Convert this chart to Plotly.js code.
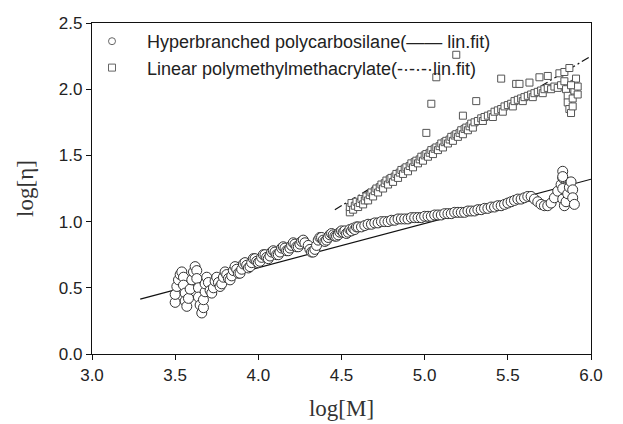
<!DOCTYPE html>
<html>
<head>
<meta charset="utf-8">
<script src="https://cdn.plot.ly/plotly-3.0.1.min.js"></script>
<style>html,body{margin:0;padding:0;background:#fff;}#chart{width:623px;height:424px;}</style>
</head>
<body>
<div id="chart"></div>
<script>
// Hyperbranched polycarbosilane (circles)
var hbX = [3.50,3.50,3.51,3.52,3.53,3.54,3.55,3.55,3.56,3.56,3.57,3.58,3.59,3.60,3.61,3.62,3.63,3.63,3.64,3.64,3.65,3.66,3.67,3.67,3.68,3.68,3.69,3.70,3.71,3.72,3.73,3.74,3.75,3.76,3.77,3.78,3.79,3.80,3.81,3.82,3.83,3.84,3.85,3.86,3.87,3.88,3.89,3.90,3.91,3.92,3.93,3.94,3.95,3.96,3.97,3.98,3.99,4.00,4.01,4.02,4.03,4.04,4.05,4.06,4.07,4.08,4.09,4.10,4.11,4.12,4.13,4.14,4.15,4.16,4.17,4.18,4.19,4.20,4.21,4.22,4.23,4.24,4.25,4.26,4.27,4.28,4.30,4.31,4.32,4.33,4.34,4.35,4.36,4.37,4.38,4.39,4.40,4.41,4.42,4.43,4.44,4.45,4.46,4.47,4.48,4.49,4.50,4.51,4.52,4.53,4.54,4.55,4.56,4.57,4.58,4.59,4.60,4.62,4.64,4.66,4.68,4.70,4.72,4.74,4.76,4.78,4.80,4.82,4.84,4.86,4.88,4.90,4.92,4.94,4.96,4.98,5.00,5.02,5.04,5.06,5.08,5.10,5.12,5.14,5.16,5.18,5.20,5.22,5.24,5.26,5.28,5.30,5.32,5.34,5.36,5.38,5.40,5.42,5.44,5.46,5.48,5.50,5.52,5.54,5.56,5.58,5.60,5.62,5.64,5.66,5.68,5.70,5.72,5.74,5.76,5.78,5.80,5.82,5.83,5.83,5.83,5.83,5.83,5.84,5.85,5.86,5.87,5.88,5.89,5.89,5.90,5.90,5.91,5.91];
var hbY = [0.39,0.45,0.51,0.56,0.60,0.62,0.58,0.52,0.46,0.40,0.36,0.42,0.49,0.56,0.62,0.66,0.63,0.57,0.50,0.43,0.37,0.31,0.35,0.41,0.47,0.53,0.58,0.54,0.48,0.46,0.50,0.55,0.58,0.54,0.51,0.53,0.58,0.62,0.60,0.57,0.56,0.59,0.63,0.66,0.64,0.61,0.61,0.64,0.68,0.69,0.67,0.65,0.66,0.69,0.72,0.72,0.70,0.69,0.70,0.73,0.75,0.75,0.73,0.72,0.74,0.77,0.78,0.77,0.75,0.75,0.77,0.80,0.81,0.80,0.78,0.78,0.80,0.82,0.84,0.83,0.81,0.81,0.83,0.85,0.86,0.84,0.82,0.79,0.77,0.77,0.79,0.82,0.86,0.88,0.88,0.86,0.85,0.86,0.88,0.90,0.91,0.90,0.89,0.89,0.90,0.92,0.93,0.92,0.93,0.91,0.92,0.94,0.93,0.95,0.94,0.96,0.96,0.96,0.97,0.98,0.98,0.99,0.99,1.00,1.00,1.00,1.01,1.01,1.02,1.02,1.02,1.02,1.03,1.03,1.03,1.03,1.04,1.04,1.04,1.05,1.05,1.05,1.06,1.06,1.06,1.07,1.07,1.07,1.07,1.08,1.08,1.08,1.09,1.09,1.10,1.10,1.11,1.11,1.12,1.12,1.13,1.14,1.15,1.16,1.17,1.17,1.18,1.19,1.19,1.17,1.15,1.13,1.12,1.12,1.14,1.18,1.23,1.28,1.33,1.38,1.34,1.25,1.17,1.12,1.15,1.21,1.26,1.30,1.24,1.18,1.13];

// Linear polymethylmethacrylate (squares)
var pmX = [4.55,4.55,4.56,4.57,4.58,4.59,4.60,4.61,4.62,4.63,4.64,4.65,4.66,4.67,4.68,4.69,4.70,4.71,4.72,4.73,4.74,4.75,4.76,4.77,4.78,4.79,4.80,4.81,4.82,4.83,4.84,4.85,4.86,4.87,4.88,4.89,4.90,4.91,4.92,4.93,4.94,4.95,4.96,4.97,4.98,4.99,5.00,5.01,5.02,5.03,5.04,5.05,5.06,5.07,5.08,5.09,5.10,5.11,5.12,5.13,5.14,5.15,5.16,5.17,5.18,5.19,5.20,5.21,5.22,5.23,5.24,5.25,5.26,5.27,5.28,5.29,5.30,5.32,5.34,5.35,5.36,5.38,5.40,5.41,5.42,5.44,5.46,5.47,5.48,5.50,5.52,5.53,5.54,5.56,5.58,5.59,5.60,5.62,5.64,5.65,5.66,5.68,5.70,5.71,5.72,5.74,5.76,5.78,5.80,5.82,5.84,5.85,5.86,5.86,5.87,5.88,5.89,5.89,5.90,5.90,5.91,5.92,5.92,5.88,5.01,5.04,5.07,5.19,5.23,5.31,5.46,5.55,5.57,5.63,5.69,5.74,5.81,5.84,5.87];
var pmY = [1.07,1.11,1.14,1.09,1.12,1.15,1.11,1.14,1.17,1.13,1.16,1.19,1.16,1.20,1.22,1.19,1.23,1.25,1.22,1.26,1.28,1.25,1.29,1.31,1.28,1.32,1.33,1.30,1.34,1.36,1.33,1.37,1.39,1.36,1.40,1.41,1.38,1.42,1.44,1.41,1.45,1.46,1.44,1.47,1.49,1.46,1.50,1.51,1.49,1.52,1.54,1.51,1.55,1.56,1.54,1.57,1.59,1.56,1.60,1.61,1.59,1.62,1.64,1.61,1.65,1.66,1.64,1.67,1.69,1.66,1.70,1.71,1.69,1.72,1.74,1.71,1.75,1.76,1.78,1.76,1.79,1.80,1.81,1.79,1.83,1.84,1.85,1.83,1.87,1.88,1.89,1.87,1.91,1.92,1.93,1.91,1.94,1.95,1.96,1.94,1.97,1.98,1.99,1.97,2.00,2.01,2.00,2.02,2.01,2.03,2.06,2.00,1.95,1.90,1.85,1.82,1.87,1.93,1.99,2.04,2.08,2.02,1.96,2.03,1.67,1.89,2.09,2.26,1.80,1.91,2.08,2.04,2.04,2.05,2.09,2.10,2.12,2.13,2.16];

// Linear fits
var hbFitX = [3.29, 6.0];
var hbFitY = [0.415, 1.32];
var pmFitX = [4.46, 6.0];
var pmFitY = [1.09, 2.25];

var xTicks = [3.0, 3.5, 4.0, 4.5, 5.0, 5.5, 6.0];
var yTicks = [0.0, 0.5, 1.0, 1.5, 2.0, 2.5];

var seriesNames = ['   Hyperbranched polycarbosilane(\u2014\u2014 lin.fit)',
                   '   Linear polymethylmethacrylate(-\u00b7-\u00b7-\u00b7lin.fit)'];

var traces = [
  {x: hbFitX, y: hbFitY, mode: 'lines', line: {color: '#111', width: 1.2}, showlegend: false, hoverinfo: 'skip'},
  {x: pmFitX, y: pmFitY, mode: 'lines', line: {color: '#111', width: 1.2, dash: '8px,3px,2px,3px'}, showlegend: false, hoverinfo: 'skip'},
  {x: hbX, y: hbY, mode: 'markers', name: seriesNames[0], showlegend: false,
   marker: {symbol: 'circle', size: 10, color: '#fff', line: {color: '#333', width: 1}}},
  {x: pmX, y: pmY, mode: 'markers', name: seriesNames[1], showlegend: false,
   marker: {symbol: 'square', size: 7, color: '#fff', line: {color: '#555', width: 1}}},
  // legend-only entries (smaller, lighter symbols as in the original legend)
  {x: [null], y: [null], mode: 'markers', name: seriesNames[0],
   marker: {symbol: 'circle', size: 7, color: '#fff', line: {color: '#666', width: 1}}},
  {x: [null], y: [null], mode: 'markers', name: seriesNames[1],
   marker: {symbol: 'square', size: 7, color: '#fff', line: {color: '#666', width: 1}}}
];

var tickFont = {family: 'Liberation Sans, Arial, sans-serif', size: 17, color: '#222'};
var layout = {
  width: 623, height: 424,
  margin: {l: 92, r: 32, t: 23, b: 70},
  paper_bgcolor: '#fff', plot_bgcolor: '#fff',
  showlegend: true,
  legend: {x: 0.0, y: 1, xanchor: 'left', yanchor: 'top', bgcolor: 'rgba(0,0,0,0)',
           font: {family: 'Liberation Sans, Arial, sans-serif', size: 18, color: '#222'},
           tracegroupgap: 0, itemsizing: 'trace'},
  xaxis: {range: [3.0, 6.0], tickvals: xTicks, ticktext: xTicks.map(function(v){return v.toFixed(1);}),
          ticks: 'outside', ticklen: 5, tickcolor: '#111', showline: true, linecolor: '#111', linewidth: 1.2,
          mirror: true, showgrid: false, zeroline: false, tickfont: tickFont,
          title: {text: 'log[M]', font: {family: 'Liberation Serif, serif', size: 23, color: '#333'}, standoff: 16}},
  yaxis: {range: [0.0, 2.5], tickvals: yTicks, ticktext: yTicks.map(function(v){return v.toFixed(1);}),
          ticks: 'outside', ticklen: 5, tickcolor: '#111', showline: true, linecolor: '#111', linewidth: 1.2,
          mirror: true, showgrid: false, zeroline: false, tickfont: tickFont,
          title: {text: 'log[\u03b7]', font: {family: 'Liberation Serif, serif', size: 23, color: '#333'}, standoff: 18}}
};

Plotly.newPlot('chart', traces, layout, {staticPlot: true, displayModeBar: false});
</script>
</body>
</html>
